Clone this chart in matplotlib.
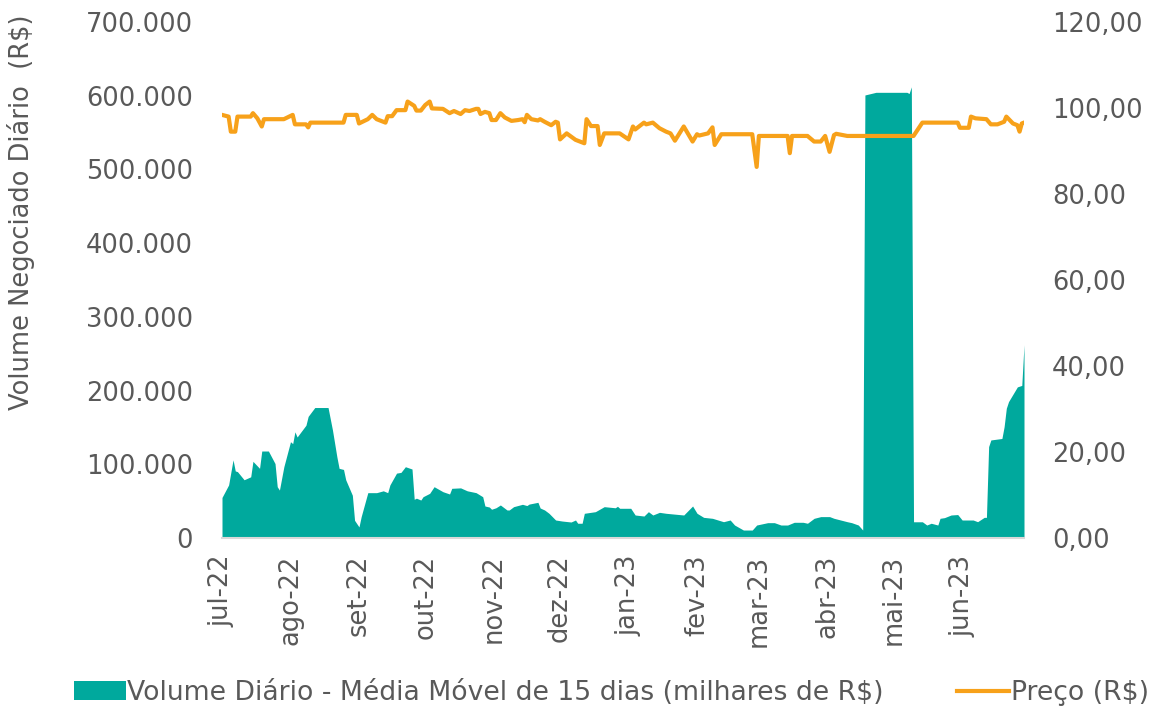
import matplotlib

matplotlib.use("Agg")
import matplotlib.pyplot as plt
import pandas as pd
from matplotlib.ticker import FuncFormatter, MultipleLocator

plt.rcParams.update({
    "font.family": "DejaVu Sans",
    "font.size": 18.5,
    "text.color": "#595959",
    "axes.labelcolor": "#595959",
    "xtick.color": "#595959",
    "ytick.color": "#595959",
})

START = pd.Timestamp("2022-07-01")

# volume: 15-day moving average, day offset from START
vol_days = [0, 3, 5, 6, 7, 10, 13, 14, 17, 18, 21, 24, 25, 26, 28, 31, 32, 33, 34, 38,
            39, 42, 48, 50, 52, 53, 55, 56, 59, 60, 62, 63, 66, 70, 73, 75, 76, 79, 81, 83,
            86, 87, 88, 90, 91, 94, 96, 100, 103, 104, 108, 111, 115, 118, 119, 121, 122, 124, 126, 129,
            130, 132, 136, 138, 139, 143, 144, 146, 148, 151, 154, 158, 160, 161, 163, 164, 169, 173, 178, 179,
            180, 185, 187, 191, 193, 195, 198, 201, 209, 213, 215, 218, 222, 227, 230, 232, 236, 240, 242, 247,
            250, 253, 256, 259, 263, 265, 268, 271, 275, 277, 283, 285, 288, 290, 291, 296, 310, 311, 312, 313,
            317, 319, 321, 324, 325, 327, 330, 333, 335, 340, 342, 345, 346, 347, 348, 353, 354, 355, 356, 360,
            362, 363]
vol_values = [55000, 72000, 106000, 91000, 90000, 79000, 83000, 104000, 94500, 118000,
              118000, 101000, 69600, 65000, 96700, 130600, 128000, 144000, 137000, 153000,
              165000, 177000, 177000, 146500, 110000, 94500, 93000, 79000, 58000, 24000,
              15000, 29000, 61500, 61500, 64000, 61500, 72000, 88000, 89000, 96700,
              93600, 52500, 54000, 51500, 56000, 60600, 69600, 62800, 59700, 67400,
              68000, 64000, 61500, 56000, 43400, 42000, 39000, 41000, 44800, 38000,
              38000, 42500, 45700, 44000, 46000, 48400, 40700, 38000, 33500, 24400,
              23000, 21700, 24400, 20000, 20000, 33500, 35700, 42500, 41000, 43000,
              40300, 40300, 31200, 29800, 35700, 31200, 34800, 33500, 31200, 43400,
              33500, 28000, 26700, 22100, 24400, 17600, 10800, 10800, 17600, 20800,
              20800, 17600, 17600, 21300, 21300, 20000, 26700, 29000, 29000, 26700,
              22100, 20800, 17600, 10800, 601000, 604600, 604600, 603000, 612000, 22000,
              22000, 17600, 20000, 17600, 26700, 27600, 31200, 31800, 24400, 24400,
              22100, 28000, 28000, 124000, 133000, 135000, 151000, 176000, 185000, 205000,
              207000, 262000]

# price (R$), day offset from START
price_days = [0, 3, 4, 6, 7, 13, 14, 16, 18, 19, 28, 32, 33, 38, 39, 40, 55, 56, 61, 62,
              66, 68, 70, 74, 75, 77, 79, 83, 84, 87, 88, 90, 92, 94, 95, 100, 103, 105, 108, 110,
              112, 115, 116, 117, 119, 121, 122, 124, 126, 128, 131, 134, 136, 137, 138, 140, 143, 144, 146, 149,
              151, 152, 153, 156, 160, 164, 165, 167, 170, 171, 173, 180, 184, 186, 187, 191, 192, 195, 198, 201,
              203, 205, 209, 213, 215, 216, 220, 222, 223, 226, 240, 242, 243, 256, 257, 258, 265, 268, 271, 273,
              275, 277, 278, 283, 313, 317, 333, 334, 338, 339, 341, 346, 348, 351, 354, 355, 358, 360, 361, 362,
              363]
price_values = [98.4, 98.0, 94.5, 94.5, 98.0, 98.0, 98.8, 97.6, 95.7, 97.4,
                97.4, 98.4, 96.2, 96.2, 95.5, 96.6, 96.6, 98.4, 98.4, 96.4,
                97.4, 98.4, 97.4, 96.6, 98.1, 98.1, 99.5, 99.5, 101.5, 100.5,
                99.4, 99.4, 100.7, 101.5, 99.9, 99.8, 98.8, 99.3, 98.6, 99.5,
                99.3, 99.8, 99.8, 98.6, 99.1, 98.8, 97.2, 97.2, 98.8, 97.8,
                97.0, 97.2, 97.4, 96.7, 98.4, 97.4, 97.1, 97.4, 96.8, 96.0,
                96.8, 96.6, 92.7, 94.1, 92.6, 91.8, 97.4, 95.8, 95.8, 91.4,
                94.1, 94.1, 92.7, 95.7, 95.0, 96.6, 96.2, 96.6, 95.3, 94.5,
                94.1, 92.4, 95.7, 92.2, 93.9, 93.6, 94.1, 95.5, 91.4, 93.9,
                93.9, 86.3, 93.5, 93.5, 89.5, 93.5, 93.5, 92.2, 92.2, 93.5,
                89.8, 93.7, 94.0, 93.5, 93.5, 96.6, 96.6, 95.4, 95.4, 98.0,
                97.6, 97.4, 96.2, 96.2, 96.8, 98.0, 96.4, 96.0, 94.5, 96.4,
                96.6]

month_labels = ["jul-22", "ago-22", "set-22", "out-22", "nov-22", "dez-22",
                "jan-23", "fev-23", "mar-23", "abr-23", "mai-23", "jun-23"]

TEAL = "#00A99D"
ORANGE = "#F7A11A"


def days_to_dates(days):
    return START + pd.to_timedelta(days, unit="D")


fig = plt.figure(figsize=(11.55, 7.10), dpi=100)
ax = fig.add_axes([222 / 1155, 1 - 538 / 710, 802 / 1155, 516 / 710])
ax2 = ax.twinx()

vol_dates = days_to_dates(vol_days)
ax.fill_between(vol_dates, vol_values, 0, color=TEAL, lw=0,
                label="Volume Diário - Média Móvel de 15 dias (milhares de R$)")
ax2.plot(days_to_dates(price_days), price_values, color=ORANGE, lw=3,
         solid_joinstyle="round", label="Preço (R$)")

ax.set_xlim(START, days_to_dates([363])[0])
ax.set_ylim(0, 700000)
ax2.set_ylim(0, 120)
ax.yaxis.set_major_locator(MultipleLocator(100000))
ax2.yaxis.set_major_locator(MultipleLocator(20))
ax.yaxis.set_major_formatter(FuncFormatter(lambda v, _: f"{v:,.0f}".replace(",", ".")))
ax2.yaxis.set_major_formatter(FuncFormatter(lambda v, _: f"{v:.2f}".replace(".", ",")))

ax.set_xticks(pd.date_range(START, periods=len(month_labels), freq="MS"))
ax.set_xticklabels(month_labels, rotation=90)

for a in (ax, ax2):
    for side in ("top", "left", "right", "bottom"):
        a.spines[side].set_visible(False)
ax.spines["bottom"].set_visible(True)
ax.spines["bottom"].set_color("#d9d9d9")
ax.spines["bottom"].set_linewidth(1.5)

ax.tick_params(axis="y", length=0, pad=21)
ax2.tick_params(axis="y", length=0, pad=20)
ax.tick_params(axis="x", length=0, pad=12)

ax.set_ylabel("Volume Negociado Diário  (R$)")
ax.yaxis.set_label_coords(-0.233, 0.632)

h1, l1 = ax.get_legend_handles_labels()
h2, l2 = ax2.get_legend_handles_labels()
fig.legend(h1 + h2, l1 + l2, loc="center left", bbox_to_anchor=(74 / 1155, 1 - 693 / 710),
           ncol=2, frameon=False, borderpad=0, borderaxespad=0, fontsize=19.2,
           handlelength=1.95, handletextpad=0.05, columnspacing=2.75)

fig.savefig("out.png", dpi=100)
